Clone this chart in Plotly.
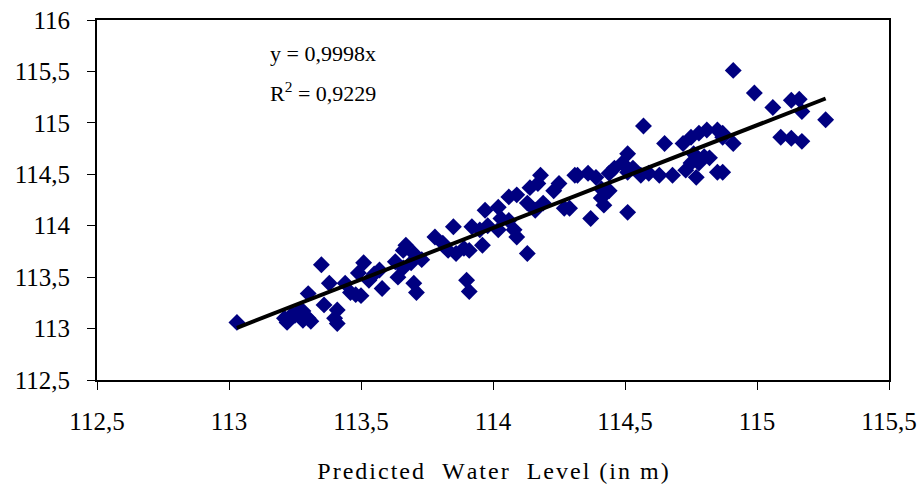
import plotly.graph_objects as go

# Predicted vs. observed water level (m)
predicted = [
    113.03, 113.21, 113.22, 113.24, 113.25, 113.26, 113.27, 113.28, 113.28, 113.30,
    113.30, 113.31, 113.35, 113.36, 113.38, 113.40, 113.41, 113.41, 113.44, 113.46,
    113.48, 113.50, 113.51, 113.49, 113.53, 113.55, 113.57, 113.58, 113.63, 113.66,
    113.66, 113.64, 113.67, 113.70, 113.73, 113.69, 113.70, 113.71, 113.78, 113.81,
    113.83, 113.85, 113.86, 113.89, 113.91, 113.90, 113.91, 113.92, 113.95, 113.96,
    113.97, 113.98, 114.02, 114.02, 114.03, 114.06, 114.08, 114.09, 114.06, 114.09,
    114.13, 114.13, 114.14, 114.17, 114.18, 114.16, 114.19, 114.23, 114.25, 114.27,
    114.31, 114.57, 114.65, 114.51, 114.32, 114.36, 114.39, 114.44, 114.46, 114.49,
    114.51, 114.53, 114.56, 114.59, 114.63, 114.68, 114.41, 114.44, 114.41, 114.42,
    114.37, 114.51, 114.72, 114.75, 114.78, 114.81, 114.85, 114.87, 114.73, 114.77,
    114.80, 114.82, 114.85, 114.76, 114.78, 114.75, 114.29, 114.91, 114.99, 115.06,
    115.13, 115.16, 115.17, 115.26, 115.09, 115.13, 115.17, 114.91, 114.87, 114.87,
]
observed = [
    113.06, 113.10, 113.06, 113.14, 113.13, 113.14, 113.18, 113.17, 113.08, 113.10,
    113.34, 113.07, 113.62, 113.23, 113.44, 113.10, 113.05, 113.18, 113.44, 113.35,
    113.33, 113.32, 113.64, 113.54, 113.47, 113.53, 113.57, 113.39, 113.65, 113.76,
    113.59, 113.50, 113.81, 113.73, 113.67, 113.64, 113.44, 113.35, 113.89, 113.83,
    113.76, 113.99, 113.73, 113.78, 113.76, 113.47, 113.36, 113.99, 113.96, 113.81,
    114.15, 114.00, 114.18, 113.96, 114.07, 114.05, 113.96, 113.89, 114.28, 114.30,
    114.22, 113.73, 114.37, 114.41, 114.49, 114.15, 114.22, 114.34, 114.41, 114.17,
    114.49, 114.97, 114.80, 114.70, 114.49, 114.51, 114.47, 114.51, 114.56, 114.61,
    114.52, 114.56, 114.49, 114.51, 114.49, 114.49, 114.36, 114.34, 114.27, 114.20,
    114.07, 114.13, 114.80, 114.86, 114.90, 114.93, 114.93, 114.86, 114.54, 114.47,
    114.67, 114.66, 114.52, 114.70, 114.61, 114.61, 114.17, 115.51, 115.29, 115.15,
    115.22, 115.23, 115.11, 115.03, 114.86, 114.85, 114.82, 114.80, 114.52, 114.90,
]

slope = 0.9998
r_squared = "0,9229"
x_title = "Predicted  Water  Level (in m)"

x_ticks = [112.5, 113, 113.5, 114, 114.5, 115, 115.5]
y_ticks = [112.5, 113, 113.5, 114, 114.5, 115, 115.5, 116]


def comma(v):
    return f"{v:g}".replace(".", ",")


def spaced(text):
    # loose tracking: a hair space between characters
    return "\u200a".join(text)


font_family = "Liberation Serif"

fig = go.Figure()

fig.add_trace(go.Scatter(
    x=predicted, y=observed, mode="markers",
    marker=dict(symbol="diamond", size=13, color="#000080", line=dict(width=0)),
    showlegend=False, hoverinfo="skip",
))

# Linear trend through the origin
x_line = [min(predicted), max(predicted)]
y_line = [slope * v for v in x_line]
fig.add_trace(go.Scatter(
    x=x_line, y=y_line, mode="lines",
    line=dict(color="black", width=4),
    showlegend=False, hoverinfo="skip",
))

axis_common = dict(
    showgrid=False, zeroline=False, showline=True, mirror=True,
    linecolor="black", linewidth=2,
    ticks="outside", ticklen=8, tickwidth=1, tickcolor="black",
    tickfont=dict(family=font_family, size=25, color="black"),
    automargin=False,
)

fig.update_xaxes(
    range=[112.5, 115.5], tickvals=x_ticks, ticktext=[comma(v) for v in x_ticks],
    ticklabelstandoff=10,
    title=dict(text=spaced(x_title),
               font=dict(family=font_family, size=24, color="black"), standoff=28),
    **axis_common,
)
fig.update_yaxes(
    range=[112.5, 116], tickvals=y_ticks, ticktext=[comma(v) for v in y_ticks],
    ticklabelstandoff=12,
    **axis_common,
)

fig.add_annotation(
    xref="paper", yref="paper", x=0.216, y=0.908, xanchor="left", yanchor="middle",
    text=f"y = {comma(slope)}x", showarrow=False,
    font=dict(family=font_family, size=22, color="black"),
)
fig.add_annotation(
    xref="paper", yref="paper", x=0.216, y=0.80, xanchor="left", yanchor="middle",
    text=f"R<sup>2</sup> = {r_squared}", showarrow=False,
    font=dict(family=font_family, size=22, color="black"),
)

fig.update_layout(
    width=924, height=484,
    margin=dict(l=97, r=35, t=20, b=104),
    plot_bgcolor="white", paper_bgcolor="white",
)

fig.write_html("out.html")
